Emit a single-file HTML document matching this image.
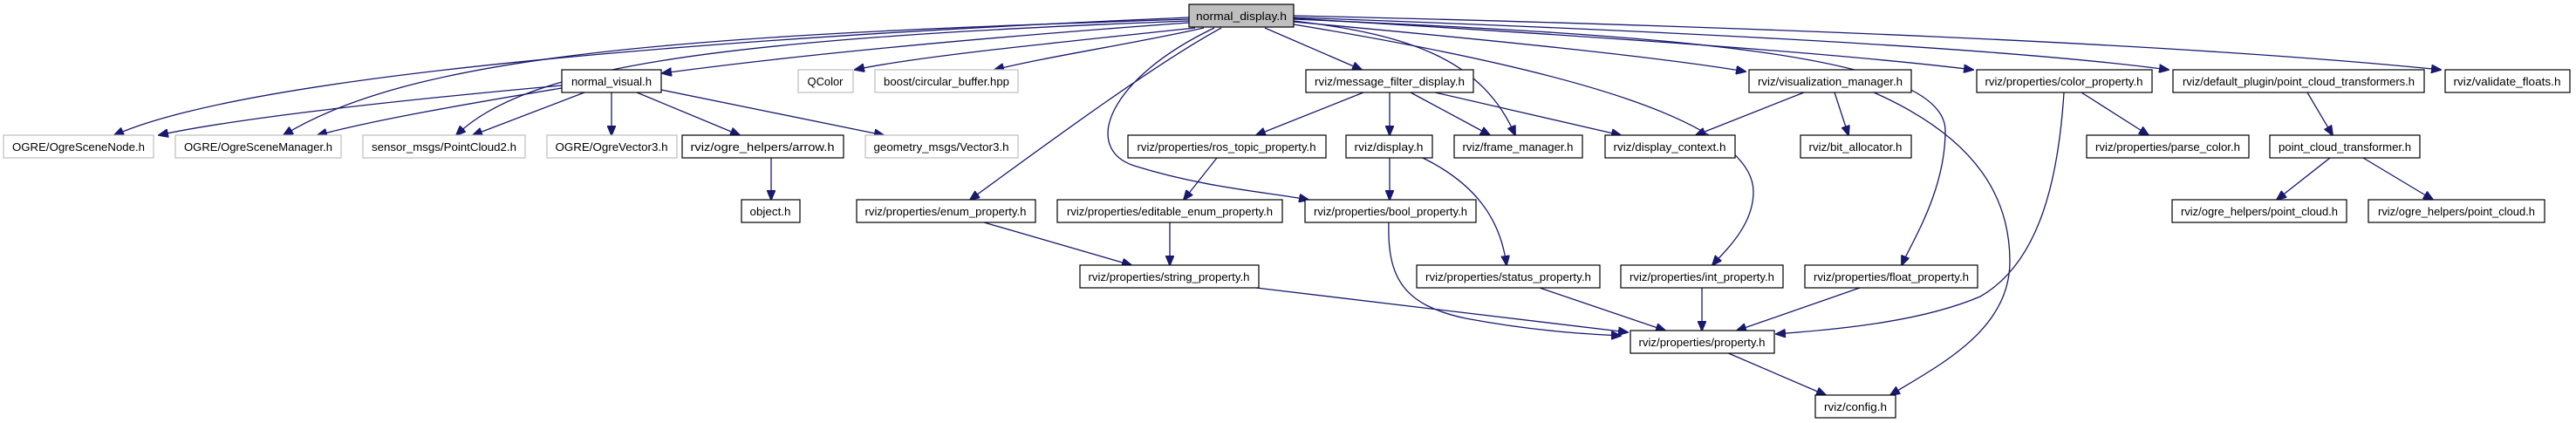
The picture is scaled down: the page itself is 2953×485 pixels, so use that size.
<!DOCTYPE html>
<html><head><meta charset="utf-8"><style>
html,body{margin:0;padding:0;background:#fff;width:2953px;height:485px;overflow:hidden}
svg{display:block}
text{font-family:"Liberation Sans",sans-serif;font-size:13px;fill:#000}
</style></head><body>
<svg width="2953" height="485" viewBox="0 0 2953 485" xmlns="http://www.w3.org/2000/svg">
<defs><marker id="a" markerUnits="userSpaceOnUse" markerWidth="12" markerHeight="10" refX="11" refY="5" orient="auto"><path d="M0,0 L12,5 L0,10 z" fill="#191970" stroke="#191970"/></marker></defs>
<g fill="none" stroke="#191970" stroke-width="1.3" marker-end="url(#a)">
<path d="M1363,20 C900,40 300,80 131,155"/>
<path d="M1363,22 C800,40 480,60 325,155"/>
<path d="M1363,24 C800,45 600,80 523,155"/>
<path d="M1363,26 C1100,45 900,65 759,84"/>
<path d="M1370,32 C1200,50 1050,65 980,80"/>
<path d="M1380,32 C1300,50 1200,65 1140,80"/>
<path d="M1400,32 C1330,70 1220,150 1112,229"/>
<path d="M1392,32 C1270,90 1240,170 1300,190 C1380,215 1450,220 1500,229"/>
<path d="M1450,32 L1561,80"/>
<path d="M1483,24 C1620,40 1700,70 1737,155"/>
<path d="M1483,28 C1800,80 2010,140 2010,220 C2010,260 1975,290 1963,304"/>
<path d="M1483,25 C1700,45 1900,65 2001,82"/>
<path d="M1483,22 C1900,40 2230,60 2230,150 C2230,220 2190,280 2180,304"/>
<path d="M1483,21 C1800,40 2100,60 2262,80"/>
<path d="M1483,20 C1900,35 2300,55 2486,80"/>
<path d="M1483,18 C2000,30 2500,50 2798,80"/>
<path d="M644,98 C400,120 250,140 182,155"/>
<path d="M644,101 C500,125 420,140 364,155"/>
<path d="M670,106 L542,155"/>
<path d="M701,106 L701,155"/>
<path d="M730,106 L848,155"/>
<path d="M758,103 L1013,155"/>
<path d="M884,181 L884,229"/>
<path d="M1563,106 L1440,155"/>
<path d="M1593,106 L1593,155"/>
<path d="M1617,106 L1708,155"/>
<path d="M1645,106 L1858,155"/>
<path d="M1395,181 L1357,229"/>
<path d="M1593,181 L1593,229"/>
<path d="M1631,181 C1690,210 1720,250 1727,304"/>
<path d="M2068,106 L1944,155"/>
<path d="M2103,106 L2119,155"/>
<path d="M2148,106 C2270,160 2304,230 2304,300 C2304,380 2220,420 2167,453"/>
<path d="M2386,106 L2463,155"/>
<path d="M2366,106 C2360,200 2340,300 2270,340 C2200,370 2100,378 2036,383"/>
<path d="M2645,106 L2674,155"/>
<path d="M2671,181 L2610,229"/>
<path d="M2709,181 L2789,229"/>
<path d="M1128,255 L1297,304"/>
<path d="M1341,255 L1341,304"/>
<path d="M1592,255 C1590,320 1610,350 1680,365 C1760,380 1820,383 1858,385"/>
<path d="M1440,330 L1866,381"/>
<path d="M1765,330 L1909,379"/>
<path d="M1951,330 L1951,379"/>
<path d="M2132,330 L1991,379"/>
<path d="M1979,404 L2093,453"/>
</g>
<g stroke-width="1.2">
<!-- boxes: x,y,w -->
<rect x="1363" y="5" width="120" height="26" fill="#bfbfbf" stroke="#000"/><text x="1423" y="23" text-anchor="middle" textLength="104" lengthAdjust="spacingAndGlyphs">normal_display.h</text>

<rect x="644" y="80" width="114" height="26" fill="#fff" stroke="#000"/><text x="701" y="98" text-anchor="middle" textLength="92" lengthAdjust="spacingAndGlyphs">normal_visual.h</text>
<rect x="915" y="80" width="63" height="26" fill="#fff" stroke="#bfbfbf"/><text x="946" y="98" text-anchor="middle" textLength="41" lengthAdjust="spacingAndGlyphs">QColor</text>
<rect x="1003" y="80" width="164" height="26" fill="#fff" stroke="#bfbfbf"/><text x="1085" y="98" text-anchor="middle" textLength="144" lengthAdjust="spacingAndGlyphs">boost/circular_buffer.hpp</text>
<rect x="1497" y="80" width="192" height="26" fill="#fff" stroke="#000"/><text x="1593" y="98" text-anchor="middle" textLength="172" lengthAdjust="spacingAndGlyphs">rviz/message_filter_display.h</text>
<rect x="2005" y="80" width="186" height="26" fill="#fff" stroke="#000"/><text x="2098" y="98" text-anchor="middle" textLength="166" lengthAdjust="spacingAndGlyphs">rviz/visualization_manager.h</text>
<rect x="2266" y="80" width="201" height="26" fill="#fff" stroke="#000"/><text x="2366" y="98" text-anchor="middle" textLength="181" lengthAdjust="spacingAndGlyphs">rviz/properties/color_property.h</text>
<rect x="2491" y="80" width="288" height="26" fill="#fff" stroke="#000"/><text x="2635" y="98" text-anchor="middle" textLength="266" lengthAdjust="spacingAndGlyphs">rviz/default_plugin/point_cloud_transformers.h</text>
<rect x="2803" y="80" width="143" height="26" fill="#fff" stroke="#000"/><text x="2874" y="98" text-anchor="middle" textLength="123" lengthAdjust="spacingAndGlyphs">rviz/validate_floats.h</text>

<rect x="4" y="155" width="172" height="26" fill="#fff" stroke="#bfbfbf"/><text x="90" y="173" text-anchor="middle" textLength="152" lengthAdjust="spacingAndGlyphs">OGRE/OgreSceneNode.h</text>
<rect x="201" y="155" width="190" height="26" fill="#fff" stroke="#bfbfbf"/><text x="296" y="173" text-anchor="middle" textLength="170" lengthAdjust="spacingAndGlyphs">OGRE/OgreSceneManager.h</text>
<rect x="416" y="155" width="186" height="26" fill="#fff" stroke="#bfbfbf"/><text x="509" y="173" text-anchor="middle" textLength="166" lengthAdjust="spacingAndGlyphs">sensor_msgs/PointCloud2.h</text>
<rect x="627" y="155" width="149" height="26" fill="#fff" stroke="#bfbfbf"/><text x="701" y="173" text-anchor="middle" textLength="129" lengthAdjust="spacingAndGlyphs">OGRE/OgreVector3.h</text>
<rect x="782" y="155" width="185" height="26" fill="#fff" stroke="#000"/><text x="874" y="173" text-anchor="middle" textLength="165" lengthAdjust="spacingAndGlyphs">rviz/ogre_helpers/arrow.h</text>
<rect x="992" y="155" width="175" height="26" fill="#fff" stroke="#bfbfbf"/><text x="1079" y="173" text-anchor="middle" textLength="155" lengthAdjust="spacingAndGlyphs">geometry_msgs/Vector3.h</text>
<rect x="1293" y="155" width="227" height="26" fill="#fff" stroke="#000"/><text x="1406" y="173" text-anchor="middle" textLength="205" lengthAdjust="spacingAndGlyphs">rviz/properties/ros_topic_property.h</text>
<rect x="1543" y="155" width="99" height="26" fill="#fff" stroke="#000"/><text x="1592" y="173" text-anchor="middle" textLength="79" lengthAdjust="spacingAndGlyphs">rviz/display.h</text>
<rect x="1667" y="155" width="147" height="26" fill="#fff" stroke="#000"/><text x="1740" y="173" text-anchor="middle" textLength="127" lengthAdjust="spacingAndGlyphs">rviz/frame_manager.h</text>
<rect x="1840" y="155" width="149" height="26" fill="#fff" stroke="#000"/><text x="1914" y="173" text-anchor="middle" textLength="129" lengthAdjust="spacingAndGlyphs">rviz/display_context.h</text>
<rect x="2064" y="155" width="127" height="26" fill="#fff" stroke="#000"/><text x="2127" y="173" text-anchor="middle" textLength="107" lengthAdjust="spacingAndGlyphs">rviz/bit_allocator.h</text>
<rect x="2392" y="155" width="186" height="26" fill="#fff" stroke="#000"/><text x="2485" y="173" text-anchor="middle" textLength="166" lengthAdjust="spacingAndGlyphs">rviz/properties/parse_color.h</text>
<rect x="2602" y="155" width="172" height="26" fill="#fff" stroke="#000"/><text x="2688" y="173" text-anchor="middle" textLength="152" lengthAdjust="spacingAndGlyphs">point_cloud_transformer.h</text>

<rect x="850" y="229" width="67" height="26" fill="#fff" stroke="#000"/><text x="883" y="247" text-anchor="middle" textLength="47" lengthAdjust="spacingAndGlyphs">object.h</text>
<rect x="982" y="229" width="205" height="26" fill="#fff" stroke="#000"/><text x="1084" y="247" text-anchor="middle" textLength="185" lengthAdjust="spacingAndGlyphs">rviz/properties/enum_property.h</text>
<rect x="1212" y="229" width="258" height="26" fill="#fff" stroke="#000"/><text x="1341" y="247" text-anchor="middle" textLength="236" lengthAdjust="spacingAndGlyphs">rviz/properties/editable_enum_property.h</text>
<rect x="1496" y="229" width="196" height="26" fill="#fff" stroke="#000"/><text x="1594" y="247" text-anchor="middle" textLength="176" lengthAdjust="spacingAndGlyphs">rviz/properties/bool_property.h</text>
<rect x="2490" y="229" width="200" height="26" fill="#fff" stroke="#000"/><text x="2590" y="247" text-anchor="middle" textLength="180" lengthAdjust="spacingAndGlyphs">rviz/ogre_helpers/point_cloud.h</text>
<rect x="2715" y="229" width="202" height="26" fill="#fff" stroke="#000"/><text x="2816" y="247" text-anchor="middle" textLength="180" lengthAdjust="spacingAndGlyphs">rviz/ogre_helpers/point_cloud.h</text>

<rect x="1238" y="304" width="205" height="26" fill="#fff" stroke="#000"/><text x="1340" y="322" text-anchor="middle" textLength="185" lengthAdjust="spacingAndGlyphs">rviz/properties/string_property.h</text>
<rect x="1624" y="304" width="210" height="26" fill="#fff" stroke="#000"/><text x="1729" y="322" text-anchor="middle" textLength="190" lengthAdjust="spacingAndGlyphs">rviz/properties/status_property.h</text>
<rect x="1858" y="304" width="186" height="26" fill="#fff" stroke="#000"/><text x="1951" y="322" text-anchor="middle" textLength="166" lengthAdjust="spacingAndGlyphs">rviz/properties/int_property.h</text>
<rect x="2069" y="304" width="198" height="26" fill="#fff" stroke="#000"/><text x="2168" y="322" text-anchor="middle" textLength="178" lengthAdjust="spacingAndGlyphs">rviz/properties/float_property.h</text>

<rect x="1869" y="379" width="165" height="26" fill="#fff" stroke="#000"/><text x="1951" y="397" text-anchor="middle" textLength="145" lengthAdjust="spacingAndGlyphs">rviz/properties/property.h</text>
<rect x="2081" y="453" width="92" height="26" fill="#fff" stroke="#000"/><text x="2127" y="471" text-anchor="middle" textLength="72" lengthAdjust="spacingAndGlyphs">rviz/config.h</text>
</g>
</svg>
</body></html>
